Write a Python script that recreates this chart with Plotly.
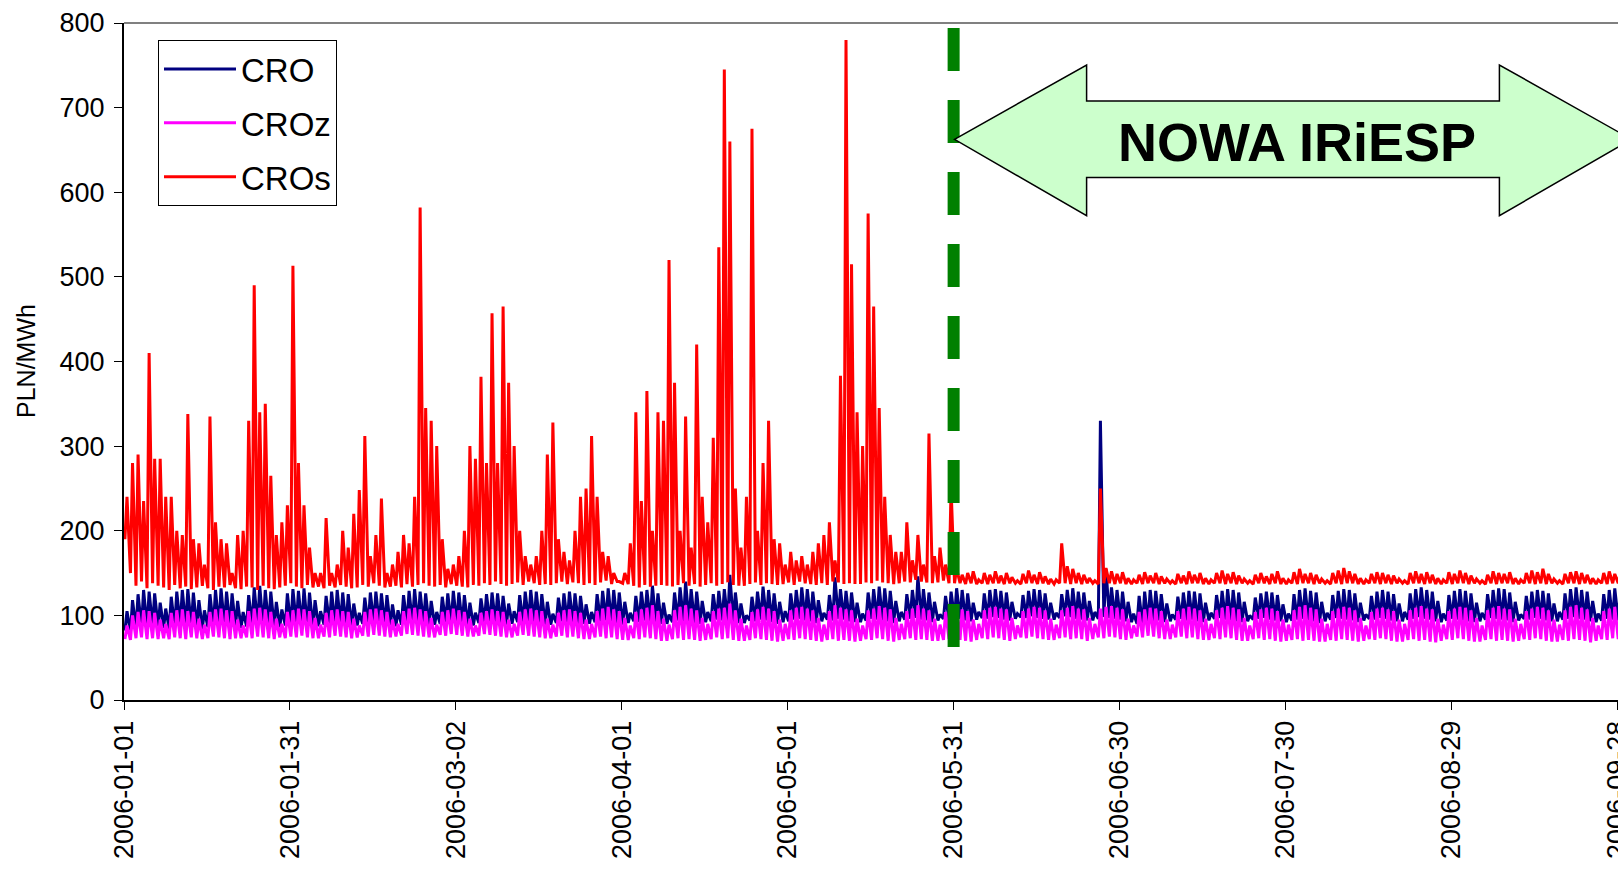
import pandas as pd
import plotly.graph_objects as go

# ---------------- data (daily night-low / day-high, PLN/MWh), one row = one week (Sun..Sat) -------------
START = "2006-01-01"
tick_dates = ["2006-01-01", "2006-01-31", "2006-03-02", "2006-04-01", "2006-05-01",
              "2006-05-31", "2006-06-30", "2006-07-30", "2006-08-29", "2006-09-28"]
y_ticks = [0, 100, 200, 300, 400, 500, 600, 700, 800]
change_date = "2006-05-31"
arrow_label = "NOWA IRiESP"

cro_hi = [
    105, 118, 125, 130, 128, 126, 115,
    108, 122, 128, 130, 131, 127, 118,
    106, 125, 130, 132, 128, 126, 117,
    104, 124, 133, 135, 130, 128, 116,
    107, 126, 131, 129, 132, 127, 118,
    105, 123, 128, 130, 127, 125, 114,
    103, 121, 127, 128, 126, 124, 113,
    106, 124, 129, 131, 128, 126, 117,
    104, 122, 126, 129, 127, 124, 115,
    103, 120, 125, 127, 126, 123, 114,
    105, 124, 128, 130, 128, 125, 116,
    102, 121, 126, 128, 126, 123, 113,
    104, 125, 129, 132, 130, 127, 116,
    103, 123, 128, 130, 135, 126, 115,
    101, 127, 133, 140, 131, 128, 117,
    104, 125, 129, 131, 148, 127, 114,
    100, 122, 128, 134, 130, 126, 116,
    105, 126, 130, 133, 131, 128, 118,
    103, 124, 145, 131, 129, 127, 115,
    102, 127, 131, 134, 132, 129, 117,
    104, 125, 130, 146, 131, 127, 116,
    101, 123, 128, 132, 130, 126, 115,
    104, 126, 130, 131, 129, 127, 116,
    102, 124, 129, 131, 130, 126, 115,
    103, 125, 130, 132, 128, 127, 117,
    104, 330, 155, 133, 130, 128, 116,
    102, 123, 128, 130, 129, 125, 114,
    101, 122, 127, 129, 128, 126, 115,
    103, 124, 129, 131, 130, 127, 116,
    100, 121, 126, 128, 127, 124, 113,
    102, 125, 130, 132, 129, 127, 116,
    103, 124, 129, 131, 130, 126, 115,
    101, 123, 128, 130, 128, 125, 114,
    104, 126, 131, 133, 130, 128, 117,
    102, 124, 129, 131, 129, 126, 115,
    103, 125, 130, 132, 131, 127, 116,
    101, 123, 128, 130, 129, 126, 114,
    104, 126, 131, 133, 130, 128, 117,
    102, 125, 130, 132, 129, 127, 116,
]
cro_lo = [
    82, 80, 84, 86, 85, 87, 86,
    85, 84, 86, 88, 87, 86, 85,
    84, 86, 87, 86, 88, 87, 86,
    85, 87, 89, 88, 86, 87, 86,
    86, 88, 87, 89, 88, 86, 85,
    87, 89, 90, 88, 89, 88, 87,
    88, 90, 89, 91, 90, 88, 87,
    87, 89, 91, 90, 89, 90, 88,
    89, 90, 92, 91, 90, 89, 88,
    88, 91, 92, 90, 91, 90, 89,
    90, 92, 91, 93, 92, 90, 89,
    89, 91, 93, 92, 91, 90, 90,
    90, 92, 93, 94, 92, 91, 89,
    91, 93, 92, 94, 93, 92, 90,
    90, 92, 94, 93, 92, 91, 90,
    92, 93, 95, 94, 93, 92, 91,
    91, 94, 93, 95, 94, 92, 90,
    92, 93, 95, 96, 94, 93, 91,
    93, 95, 94, 96, 95, 93, 92,
    92, 94, 96, 95, 94, 93, 91,
    93, 95, 96, 97, 95, 94, 92,
    94, 96, 95, 97, 96, 94, 93,
    95, 97, 96, 98, 97, 95, 94,
    96, 98, 97, 99, 97, 96, 95,
    95, 97, 99, 98, 96, 95, 94,
    94, 96, 98, 97, 96, 95, 93,
    92, 90, 89, 91, 93, 94, 92,
    93, 95, 96, 94, 95, 93, 92,
    94, 96, 97, 95, 94, 93, 92,
    93, 95, 96, 97, 95, 94, 93,
    92, 94, 95, 96, 94, 93, 91,
    93, 95, 97, 96, 95, 94, 92,
    94, 96, 95, 97, 96, 94, 93,
    93, 95, 96, 98, 96, 95, 93,
    92, 94, 96, 95, 94, 93, 92,
    93, 95, 97, 96, 95, 94, 92,
    94, 96, 95, 97, 96, 94, 93,
    93, 95, 96, 98, 96, 95, 93,
    92, 94, 96, 95, 94, 93, 92,
]
croz_hi = [
    88, 100, 104, 106, 105, 103, 95,
    90, 103, 106, 107, 105, 104, 96,
    89, 104, 107, 108, 106, 105, 95,
    88, 105, 108, 109, 107, 104, 96,
    90, 104, 106, 108, 107, 105, 97,
    89, 103, 106, 107, 105, 104, 96,
    88, 104, 107, 108, 106, 104, 95,
    90, 105, 108, 109, 107, 105, 97,
    89, 104, 106, 108, 106, 104, 96,
    88, 103, 105, 107, 105, 104, 95,
    90, 104, 107, 108, 106, 105, 96,
    89, 103, 106, 107, 105, 103, 95,
    90, 105, 108, 110, 107, 105, 97,
    88, 104, 107, 109, 112, 105, 96,
    89, 106, 110, 112, 108, 106, 97,
    90, 105, 108, 109, 114, 106, 96,
    88, 104, 107, 110, 108, 105, 95,
    90, 106, 109, 110, 108, 106, 97,
    89, 105, 112, 109, 107, 106, 96,
    88, 106, 108, 111, 109, 107, 97,
    90, 105, 108, 112, 108, 106, 96,
    89, 104, 107, 109, 107, 105, 95,
    90, 106, 109, 110, 108, 107, 97,
    88, 105, 108, 110, 109, 106, 96,
    89, 106, 109, 111, 108, 107, 97,
    90, 108, 110, 111, 109, 107, 96,
    88, 104, 107, 109, 108, 105, 95,
    89, 105, 108, 110, 108, 106, 96,
    90, 106, 109, 111, 109, 107, 97,
    88, 104, 107, 109, 108, 105, 95,
    89, 106, 110, 112, 109, 107, 96,
    90, 105, 108, 110, 109, 106, 97,
    88, 104, 108, 109, 107, 105, 95,
    90, 106, 109, 111, 108, 107, 96,
    89, 105, 108, 110, 109, 106, 97,
    88, 106, 109, 111, 108, 107, 96,
    90, 105, 108, 110, 109, 106, 95,
    89, 106, 110, 112, 109, 107, 97,
    88, 105, 108, 110, 109, 106, 96,
]
croz_lo = [
    72, 71, 73, 74, 72, 73, 72,
    73, 72, 74, 73, 72, 74, 73,
    72, 73, 75, 74, 73, 72, 73,
    73, 74, 73, 75, 74, 73, 72,
    74, 73, 75, 74, 76, 74, 73,
    73, 75, 74, 76, 75, 74, 73,
    74, 76, 75, 77, 76, 75, 74,
    75, 76, 78, 77, 76, 75, 74,
    74, 77, 76, 78, 77, 76, 75,
    75, 76, 78, 77, 76, 75, 74,
    74, 76, 77, 76, 75, 74, 73,
    73, 75, 76, 74, 75, 73, 72,
    72, 74, 75, 73, 74, 72, 71,
    71, 73, 72, 74, 73, 72, 70,
    70, 72, 73, 71, 72, 71, 70,
    71, 72, 74, 72, 73, 71, 70,
    70, 71, 73, 72, 71, 70, 69,
    70, 72, 71, 73, 72, 71, 70,
    69, 71, 72, 70, 71, 70, 69,
    70, 72, 71, 73, 72, 70, 69,
    71, 72, 73, 71, 72, 71, 70,
    70, 71, 72, 73, 71, 70, 69,
    71, 73, 72, 74, 73, 71, 70,
    72, 74, 73, 75, 73, 72, 71,
    71, 73, 74, 72, 73, 72, 70,
    72, 74, 73, 75, 74, 72, 71,
    73, 75, 74, 76, 75, 73, 72,
    72, 74, 75, 73, 74, 72, 71,
    71, 73, 72, 74, 73, 71, 70,
    70, 72, 73, 71, 72, 70, 69,
    70, 71, 72, 70, 71, 70, 69,
    69, 71, 70, 72, 71, 70, 69,
    70, 72, 71, 73, 72, 70, 69,
    69, 71, 72, 70, 71, 69, 68,
    70, 72, 71, 73, 72, 70, 69,
    69, 71, 72, 70, 71, 70, 69,
    70, 72, 71, 73, 72, 70, 69,
    69, 71, 70, 72, 71, 70, 68,
    70, 72, 71, 73, 72, 70, 69,
]
cros_hi = [
    240, 280, 290, 235, 410, 285, 285,
    240, 240, 200, 195, 338, 190, 185,
    160, 335, 210, 190, 185, 150, 195,
    200, 330, 490, 340, 350, 265, 195,
    210, 230, 513, 280, 230, 180, 150,
    150, 215, 150, 160, 200, 180, 220,
    248, 312, 170, 195, 238, 150, 160,
    175, 195, 185, 240, 582, 345, 330,
    300, 190, 155, 160, 170, 200, 300,
    285, 382, 280, 457, 280, 465, 375,
    300, 200, 170, 160, 170, 200, 290,
    328, 190, 175, 165, 200, 240, 250,
    312, 240, 175, 170, 150, 140, 150,
    185, 340, 235, 365, 200, 340, 330,
    520, 375, 200, 335, 180, 420, 240,
    210, 310, 535, 745, 660, 250, 180,
    240, 675, 200, 280, 330, 190, 185,
    160, 175, 165, 170, 160, 175, 185,
    195, 210, 165, 383, 780, 515, 340,
    300, 575, 465, 345, 240, 195, 175,
    175, 210, 165, 195, 160, 315, 170,
    180, 160, 250, 155, 148, 150, 152,
    142, 150, 148, 152, 147, 150, 145,
    141, 149, 153, 148, 151, 146, 143,
    142, 185, 158, 155, 150, 148, 144,
    141, 250, 156, 152, 149, 151, 144,
    142, 148, 151, 147, 150, 146, 143,
    141, 149, 147, 152, 148, 150, 144,
    142, 150, 153, 149, 151, 147, 143,
    141, 148, 150, 146, 149, 152, 144,
    142, 151, 155, 149, 150, 148, 143,
    141, 150, 153, 156, 152, 149, 144,
    142, 149, 151, 150, 148, 147, 143,
    141, 150, 152, 149, 151, 148, 144,
    142, 151, 149, 153, 150, 147, 143,
    141, 148, 152, 150, 149, 151, 144,
    142, 150, 153, 151, 155, 149, 143,
    141, 149, 151, 152, 150, 148, 144,
    142, 150, 152, 149, 151, 148, 143,
]
cros_lo = [
    190, 150, 135, 140, 132, 138, 135,
    133, 130, 136, 132, 134, 131, 133,
    135, 132, 130, 134, 133, 136, 132,
    131, 134, 133, 130, 135, 132, 131,
    133, 135, 138, 134, 132, 136, 133,
    134, 132, 135, 133, 136, 134, 132,
    133, 136, 134, 138, 135, 133, 134,
    135, 133, 137, 134, 136, 138, 135,
    134, 136, 133, 137, 135, 134, 133,
    136, 135, 138, 136, 140, 137, 135,
    137, 139, 136, 140, 138, 136, 137,
    136, 138, 140, 137, 139, 138, 136,
    138, 136, 139, 141, 137, 140, 138,
    137, 135, 133, 136, 134, 135, 136,
    135, 134, 136, 138, 135, 137, 134,
    136, 138, 135, 137, 139, 136, 135,
    135, 137, 139, 136, 138, 137, 136,
    137, 139, 136, 140, 138, 137, 136,
    138, 136, 140, 139, 137, 138, 137,
    137, 139, 138, 141, 139, 138, 137,
    138, 140, 139, 142, 140, 139, 138,
    139, 141, 138, 138, 138, 137, 138,
    137, 138, 137, 138, 138, 137, 138,
    138, 137, 138, 138, 137, 138, 137,
    137, 138, 138, 137, 138, 137, 138,
    138, 137, 138, 138, 137, 138, 137,
    137, 138, 137, 138, 138, 137, 138,
    138, 137, 138, 137, 138, 138, 137,
    137, 138, 138, 137, 138, 137, 138,
    138, 137, 138, 138, 137, 138, 137,
    137, 138, 137, 138, 138, 137, 138,
    138, 137, 138, 137, 138, 138, 137,
    137, 138, 138, 137, 138, 137, 138,
    138, 137, 138, 138, 137, 138, 137,
    137, 138, 137, 138, 138, 137, 138,
    138, 137, 138, 137, 138, 138, 137,
    137, 138, 138, 137, 138, 137, 138,
    138, 137, 138, 138, 137, 138, 137,
    137, 138, 137, 138, 138, 137, 138,
]

# ---------------- build hourly-like sequence: night low then daytime high per day -------------
days = pd.date_range(START, periods=len(cro_hi), freq="D")


def series(lo, hi):
    xs, ys = [], []
    for d, a, b in zip(days, lo, hi):
        xs += [d + pd.Timedelta(hours=4), d + pd.Timedelta(hours=13)]
        ys += [a, b]
    return xs, ys


FONT = "Liberation Sans, Arial, sans-serif"
fig = go.Figure()
for name, lo, hi, col in [("CRO", cro_lo, cro_hi, "#000080"),
                          ("CROz", croz_lo, croz_hi, "#FF00FF"),
                          ("CROs", cros_lo, cros_hi, "#FF0000")]:
    xs, ys = series(lo, hi)
    fig.add_trace(go.Scatter(x=xs, y=ys, mode="lines", name=name, legendgroup=name,
                             line=dict(color=col, width=3)))

# page body margin is removed by the post script, so figure pixels == page pixels
W, H = 1618, 869
L, T, R = 124, 23, 0
B = H - 700
pw, ph = W - L - R, H - T - B


def px(xp):
    return (xp - L) / pw


def py(yp):
    return (H - B - yp) / ph


fig.update_layout(
    width=W, height=H,
    margin=dict(l=L, r=R, t=T, b=B, autoexpand=False),
    paper_bgcolor="white", plot_bgcolor="white",
    font=dict(family=FONT, color="black", size=27),
    showlegend=True,
    legend=dict(x=px(158), y=py(40), xanchor="left", yanchor="top",
                bgcolor="white", bordercolor="black", borderwidth=1,
                font=dict(size=33, family=FONT), itemwidth=72,
                traceorder="grouped", tracegroupgap=8),
)
fig.update_xaxes(
    type="date", range=[START, "2006-09-28 03:00"], automargin=False,
    tickvals=tick_dates, ticktext=tick_dates, tickangle=-90,
    ticks="outside", ticklen=8, tickwidth=1, tickcolor="black",
    showline=True, linecolor="black", linewidth=2,
    showgrid=False, zeroline=False, ticklabelstandoff=0,
    ticklabeloverflow="allow",
    tickfont=dict(size=27, family=FONT),
)
fig.update_yaxes(
    range=[0, 800], tickvals=y_ticks, automargin=False,
    ticks="outside", ticklen=8, tickwidth=1, tickcolor="black",
    showline=True, linecolor="black", linewidth=2,
    showgrid=False, zeroline=False, ticklabelstandoff=4,
    tickfont=dict(size=27, family=FONT),
)

# y-axis title
fig.add_annotation(text="PLN/MWh", xref="paper", yref="paper", x=px(26), y=py(361),
                   showarrow=False, textangle=-90, font=dict(size=25, family=FONT),
                   xanchor="center", yanchor="middle")

# gray top border of plot area
fig.add_shape(type="line", xref="paper", yref="paper", x0=0, x1=1, y0=1, y1=1,
              line=dict(color="#808080", width=2), layer="above")

# green dashed vertical line at regulation change
fig.add_shape(type="line", xref="x", yref="y", x0=change_date, x1=change_date,
              y0=794, y1=56, line=dict(color="#008000", width=12, dash="43px,29px"),
              layer="above")

# double-headed arrow
pts = [(954.5, 139.3), (1086.6, 65.0), (1086.6, 101.1), (1499.4, 101.1), (1499.4, 65.0),
       (1631.4, 139.3), (1499.4, 215.7), (1499.4, 177.5), (1086.6, 177.5), (1086.6, 215.7)]
path = "M " + " L ".join(f"{px(a):.5f},{py(b):.5f}" for a, b in pts) + " Z"
fig.add_shape(type="path", xref="paper", yref="paper", path=path,
              fillcolor="#CCFFCC", line=dict(color="black", width=1.5), layer="above")
fig.add_annotation(text=f"<b>{arrow_label}</b>", xref="paper", yref="paper",
                   x=px(1296.6), y=py(142), showarrow=False,
                   font=dict(size=54, family=FONT, color="black"),
                   xanchor="center", yanchor="middle")

fig.write_html(
    "out.html",
    config={"displayModeBar": False},
    post_script=("document.body.style.margin='0';"
                 "document.body.style.overflow='hidden';"
                 "document.documentElement.style.overflow='hidden';"),
)
